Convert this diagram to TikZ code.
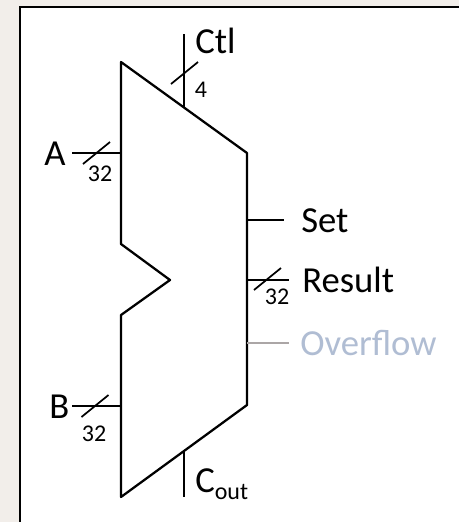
\documentclass[tikz,border=0pt]{standalone}
\usepackage{fontspec}
\setmainfont{Carlito}
\usetikzlibrary{calc}
\definecolor{paper}{HTML}{F2EEEA}
\definecolor{overtext}{HTML}{B0BDD3}
\definecolor{overline}{HTML}{ABA6A6}
\tikzset{
  wire/.style = {line width=1.7pt},
  bus/.style = {line width=1.3pt},
  big/.style = {inner sep=0pt, anchor=base west, font=\fontsize{27.5}{30}\selectfont},
  small/.style = {inner sep=0pt, font=\fontsize{18}{20}\selectfont}
}
\begin{document}
\begin{tikzpicture}[x=0.75pt, y=-0.75pt]
  \useasboundingbox (0,0) rectangle (459,522);
  \fill[paper] (0,0) rectangle (459,522);
  \fill[white] (20,7) rectangle (459,522);
  \draw[line width=1.5pt] (20,522) -- (20,7) -- (459,7);
  \draw[wire, line join=round] (121,62) -- (247,153) -- (247,405) -- (121,497)
    -- (121,315) -- (170,280) -- (121,244) -- cycle;
  \coordinate (ctlIn) at (184,34);
  \coordinate (ctlOut) at (184,107);
  \coordinate (aIn) at (72,153);
  \coordinate (aOut) at (121,153);
  \coordinate (bIn) at (72,406);
  \coordinate (bOut) at (121,406);
  \coordinate (coutIn) at (184,451);
  \coordinate (coutOut) at (184,497);
  \coordinate (setIn) at (247,220);
  \coordinate (setOut) at (284,220);
  \coordinate (resultIn) at (247,280);
  \coordinate (resultOut) at (289,280);
  \coordinate (overIn) at (247,343);
  \coordinate (overOut) at (289,343);
  \foreach \from/\to in {ctlIn/ctlOut, aIn/aOut, bIn/bOut, coutIn/coutOut,
      setIn/setOut, resultIn/resultOut} {
    \draw[wire] (\from) -- (\to);
  }
  \draw[wire, overline] (overIn) -- (overOut);
  \foreach \i/\j in {184.5/73, 96.5/153, 95/406, 267.5/279} {
    \draw[bus] (\i,\j) +(-13.5,11) -- +(13.5,-11);
  }
  \node[big] (ctlLabel) at (195,53) {Ctl};
  \node[big] (aLabel) at (44,165) {A};
  \node[big] (bLabel) at (49,418) {B};
  \node[big] (coutLabel) at (195,492)
    {C\raisebox{-5.5pt}{\fontsize{18}{20}\selectfont out}};
  \node[big] (setLabel) at (301,232) {Set};
  \node[big] (resultLabel) at (302,292) {Result};
  \node[big, text=overtext] (overLabel) at (300,355) {Overflow};
  \node[small] (ctlWidth) at (201,90) {4};
  \node[small] (aWidth) at (100,174) {32};
  \node[small] (bWidth) at (94,434) {32};
  \node[small] (resultWidth) at (277,297) {32};
\end{tikzpicture}
\end{document}
